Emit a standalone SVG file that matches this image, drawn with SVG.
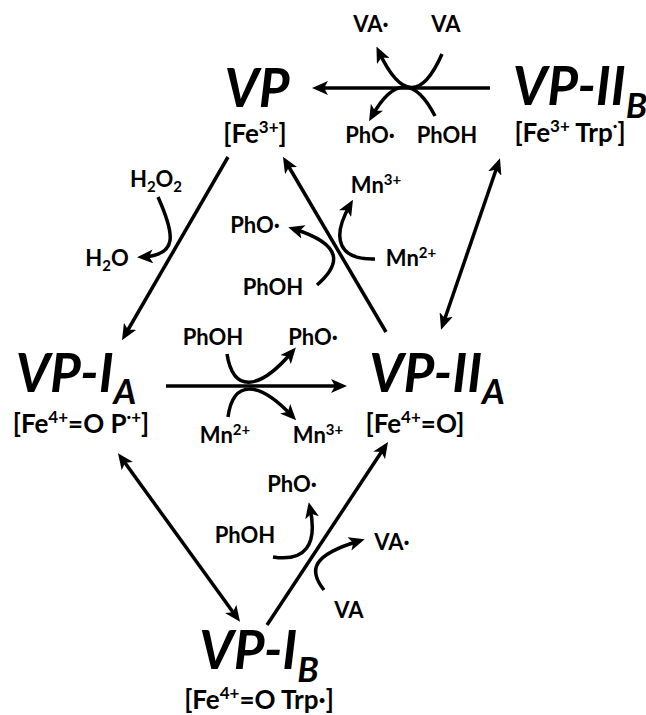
<svg xmlns="http://www.w3.org/2000/svg" width="646" height="715" viewBox="0 0 646 715">
<defs>
<marker id="ah" viewBox="0 0 16 14" refX="10" refY="7" markerWidth="16" markerHeight="14" markerUnits="userSpaceOnUse" orient="auto-start-reverse">
<path d="M0,0 L16,7 L0,14 L4,7 z" fill="#000"/>
</marker>
<style>
text{font-family:Lato,"Liberation Sans",sans-serif;font-weight:bold;fill:#000}
.big{font-size:53px;font-style:italic;text-anchor:middle}
.br{font-size:26px;text-anchor:middle}
.lb{font-size:22px;text-anchor:middle}
.c{fill:none;stroke:#000;stroke-width:3.5}
.a{marker-end:url(#ah)}
.d{marker-start:url(#ah);marker-end:url(#ah)}
</style>
</defs>
<rect width="646" height="715" fill="#fff"/>

<g id="node-VP">
<text class="big" x="257" y="107">VP</text>
<text class="br" x="255" y="143">[Fe<tspan dy="-10" font-size="17">3+</tspan><tspan dy="10">]</tspan></text>
</g>
<g id="node-VP-IIB">
<text class="big" x="580" y="105">VP-II<tspan dy="13" font-size="35">B</tspan></text>
<text class="br" x="570" y="142">[Fe<tspan dy="-10" font-size="17">3+</tspan><tspan dy="10"> Trp</tspan><tspan dy="-10" font-size="17">·</tspan><tspan dy="10">]</tspan></text>
</g>
<g id="node-VP-IA">
<text class="big" x="76" y="392">VP-I<tspan dy="12" font-size="35">A</tspan></text>
<text class="br" x="81" y="433">[Fe<tspan dy="-10" font-size="17">4+</tspan><tspan dy="10">=O P</tspan><tspan dy="-10" font-size="17">·+</tspan><tspan dy="10">]</tspan></text>
</g>
<g id="node-VP-IIA">
<text class="big" x="437" y="392">VP-II<tspan dy="12" font-size="35">A</tspan></text>
<text class="br" x="415" y="433">[Fe<tspan dy="-10" font-size="17">4+</tspan><tspan dy="10">=O]</tspan></text>
</g>
<g id="node-VP-IB">
<text class="big" x="259" y="669">VP-I<tspan dy="13" font-size="35">B</tspan></text>
<text class="br" x="259" y="709">[Fe<tspan dy="-10" font-size="17">4+</tspan><tspan dy="10">=O Trp·]</tspan></text>
</g>

<g id="labels">
<text class="lb" x="371" y="32">VA·</text>
<text class="lb" x="446" y="32">VA</text>
<text class="lb" x="370" y="143">PhO·</text>
<text class="lb" x="447" y="143">PhOH</text>
<text class="lb" x="156" y="187">H<tspan dy="5" font-size="15">2</tspan><tspan dy="-5">O</tspan><tspan dy="5" font-size="15">2</tspan></text>
<text class="lb" x="107" y="266">H<tspan dy="5" font-size="15">2</tspan><tspan dy="-5">O</tspan></text>
<text class="lb" x="376" y="193">Mn<tspan dy="-8" font-size="15">3+</tspan></text>
<text class="lb" x="255" y="233">PhO·</text>
<text class="lb" x="411" y="266">Mn<tspan dy="-8" font-size="15">2+</tspan></text>
<text class="lb" x="273" y="295">PhOH</text>
<text class="lb" x="213" y="345">PhOH</text>
<text class="lb" x="313" y="345">PhO·</text>
<text class="lb" x="225" y="443">Mn<tspan dy="-8" font-size="15">2+</tspan></text>
<text class="lb" x="318" y="443">Mn<tspan dy="-8" font-size="15">3+</tspan></text>
<text class="lb" x="292" y="492">PhO·</text>
<text class="lb" x="245" y="543">PhOH</text>
<text class="lb" x="392" y="550">VA·</text>
<text class="lb" x="349" y="618">VA</text>
</g>

<g id="connectors">
<path class="c a" d="M490,88 L318,88"/>
<path class="c a" d="M442,54 Q412,122 379,52"/>
<path class="c a" d="M435,116 Q405,58 372,116"/>
<path class="c a" d="M228,157 L125,335"/>
<path class="c a" d="M158,197 C175,235 178,255 143,257"/>
<path class="c a" d="M386,332 L286,162"/>
<path class="c a" d="M375,259 C340,260 330,240 350,205"/>
<path class="c a" d="M317,285 C340,265 345,245 294,229"/>
<path class="c d" d="M498,164 L443,324"/>
<path class="c a" d="M166,386 L341,386"/>
<path class="c a" d="M227,354 C233,392 258,392 292,352"/>
<path class="c a" d="M228,417 C233,380 258,380 292,416"/>
<path class="c d" d="M121.5,458 L236.5,617"/>
<path class="c a" d="M267,625 L384.7,447"/>
<path class="c a" d="M273,557 C305,562 318,545 310,508"/>
<path class="c a" d="M324,590 C308,570 312,555 359,541"/>
</g>
</svg>
